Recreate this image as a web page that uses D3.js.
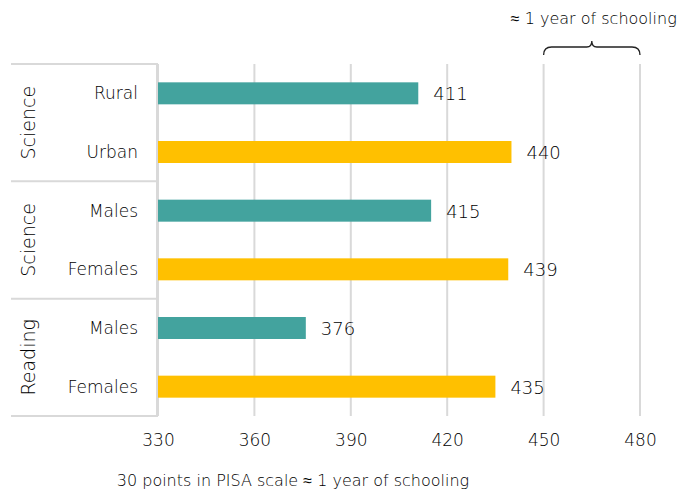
<!DOCTYPE html>
<html>
<head>
<meta charset="utf-8">
<script src="https://cdn.jsdelivr.net/npm/d3@7"></script>
<style>
  body { margin: 0; background: #fff; }
  text { font-family: "DejaVu Sans", sans-serif; font-weight: 200; fill: #000; }
</style>
</head>
<body>
<div id="chart"></div>
<script>
var svgWidth = 686;
var svgHeight = 492;

// data
var groups = ["Science", "Science", "Reading"];
var categories = ["Rural", "Urban", "Males", "Females", "Males", "Females"];
var scores = [411, 440, 415, 439, 376, 435];
var barColors = ["#43a39e", "#ffc000", "#43a39e", "#ffc000", "#43a39e", "#ffc000"];
var xTicks = [330, 360, 390, 420, 450, 480];
var braceRange = [450, 480];

var margin = { top: 64, right: 46, bottom: 76, left: 158 };
var width = svgWidth - margin.left - margin.right;
var height = svgHeight - margin.top - margin.bottom;

var svg = d3.select("#chart")
  .append("svg")
  .attr("width", svgWidth)
  .attr("height", svgHeight);

var chart = svg.append("g")
  .attr("transform", `translate(${margin.left}, ${margin.top})`);

var xScale = d3.scaleLinear()
  .domain([330, 480])
  .range([0, width]);

var yScale = d3.scaleBand()
  .domain(d3.range(categories.length))
  .range([0, height])
  .paddingInner(0.625)
  .paddingOuter(0.3125);

// gridlines
chart.append("g")
  .selectAll("line")
  .data(xTicks)
  .enter()
  .append("line")
  .attr("x1", d => xScale(d))
  .attr("x2", d => xScale(d))
  .attr("y1", 0)
  .attr("y2", height)
  .attr("stroke", "#d9d9d9")
  .attr("stroke-width", 2);

// tick labels via axis
var bottomAxis = d3.axisBottom(xScale).tickValues(xTicks).tickSize(0).tickPadding(18);
var axisG = chart.append("g")
  .attr("transform", `translate(0, ${height})`)
  .call(bottomAxis);
axisG.select(".domain").remove();
axisG.selectAll("text")
  .attr("font-size", 17)
  .attr("font-family", null)
  .style("fill", "#000");

// group boxes
var bandH = height / groups.length;
var boxG = chart.append("g");
d3.range(groups.length + 1).forEach(function(i) {
  boxG.append("line")
    .attr("x1", -147)
    .attr("x2", 0)
    .attr("y1", i * bandH)
    .attr("y2", i * bandH)
    .attr("stroke", "#d9d9d9")
    .attr("stroke-width", 2);
});
boxG.append("line")
  .attr("x1", -1).attr("x2", -1)
  .attr("y1", 0).attr("y2", height)
  .attr("stroke", "#d9d9d9")
  .attr("stroke-width", 2);

boxG.selectAll(".grp")
  .data(groups)
  .enter()
  .append("text")
  .attr("class", "grp")
  .attr("transform", (d, i) => `translate(-130, ${(i + 0.5) * bandH}) rotate(-90)`)
  .attr("text-anchor", "middle")
  .attr("dy", "0.35em")
  .attr("font-size", 19)
  .text(d => d);

// category labels
chart.append("g")
  .selectAll("text")
  .data(categories)
  .enter()
  .append("text")
  .attr("x", -20)
  .attr("y", (d, i) => yScale(i) + yScale.bandwidth() / 2)
  .attr("dy", "0.35em")
  .attr("text-anchor", "end")
  .attr("font-size", 17)
  .text(d => d);

// bars
chart.append("g")
  .selectAll("rect")
  .data(scores)
  .enter()
  .append("rect")
  .attr("x", xScale(330))
  .attr("y", (d, i) => yScale(i))
  .attr("width", d => xScale(d) - xScale(330))
  .attr("height", yScale.bandwidth())
  .attr("fill", (d, i) => barColors[i]);

// value labels
chart.append("g")
  .selectAll("text")
  .data(scores)
  .enter()
  .append("text")
  .attr("x", d => xScale(d) + 15)
  .attr("y", (d, i) => yScale(i) + yScale.bandwidth() / 2)
  .attr("dy", "0.38em")
  .attr("font-size", 18)
  .text(d => d);

// brace over the 450-480 interval
var bx0 = xScale(braceRange[0]);
var bx1 = xScale(braceRange[1]);
var bm = (bx0 + bx1) / 2;
var by = -17;
chart.append("path")
  .attr("d", `M${bx0},${by + 8} Q${bx0},${by} ${bx0 + 8},${by} L${bm - 5},${by} Q${bm},${by} ${bm},${by - 6}` +
             ` Q${bm},${by} ${bm + 5},${by} L${bx1 - 8},${by} Q${bx1},${by} ${bx1},${by + 8}`)
  .attr("fill", "none")
  .attr("stroke", "#222")
  .attr("stroke-width", 1.3);

chart.append("text")
  .attr("x", bm + 2)
  .attr("y", -40)
  .attr("text-anchor", "middle")
  .attr("font-size", 16)
  .text("≈ 1 year of schooling");

svg.append("text")
  .attr("x", 293)
  .attr("y", 486)
  .attr("text-anchor", "middle")
  .attr("font-size", 16)
  .text("30 points in PISA scale ≈ 1 year of schooling");
</script>
</body>
</html>
